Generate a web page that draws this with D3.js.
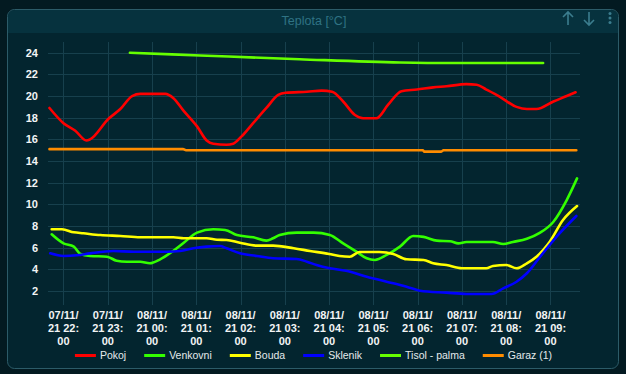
<!DOCTYPE html>
<html>
<head>
<meta charset="utf-8">
<title>Teplota</title>
<script src="https://d3js.org/d3.v7.min.js"></script>
<style>
	body { margin: 0; background: #031a21; }
	svg { display: block; font-family: "Liberation Sans", Arial, sans-serif; }
	.grid line { stroke: #17404d; stroke-width: 1; }
	.tick-y text, .tick-x text { fill: #f2f4f5; font-size: 11px; font-weight: bold; }
	.legend text { fill: #e4eaec; font-size: 10.5px; }
</style>
</head>
<body>
<script>

// series names and colours (legend order)
var seriesNames = ["Pokoj", "Venkovni", "Bouda", "Sklenik", "Tisol - palma", "Garaz (1)"];
var seriesColors = ["#ff0000", "#33ff00", "#ffff00", "#0000ff", "#66ff00", "#ff8c00"];

// readings: times (HH:MM, evening = 7/11, morning = 8/11) and values in °C
var pokojT = ["21:41","22:00","22:16","22:31","22:36","23:01","23:17","23:33","23:44","00:00","00:18","00:29","00:42","01:01","01:14","01:23","01:41","01:50","02:01","02:17","02:35","02:51","03:01","03:30","03:50","04:04","04:19","04:35","04:46","05:04","05:20","05:38","05:59","06:21","06:39","07:06","07:20","07:33","07:51","08:14","08:28","08:41","09:04","09:22","09:34"];
var pokojV = [18.9,17.5,16.8,15.9,16.0,17.9,18.8,20.0,20.2,20.2,20.2,19.8,18.7,17.2,15.9,15.6,15.5,15.6,16.25,17.5,18.9,20.1,20.3,20.4,20.5,20.4,19.5,18.25,17.95,17.95,19.2,20.45,20.6,20.8,20.9,21.1,21.05,20.6,19.95,19.0,18.8,18.8,19.5,20.0,20.35];

var venkovniT = ["21:44","22:00","22:14","22:23","22:36","22:59","23:12","23:26","23:44","23:57","00:11","00:29","00:43","01:01","01:23","01:39","01:55","02:17","02:35","02:44","02:53","03:16","03:39","04:01","04:19","04:37","04:51","05:02","05:18","05:36","05:54","06:08","06:26","06:44","06:55","07:06","07:42","07:56","08:09","08:28","08:46","09:04","09:22","09:36"];
var venkovniV = [7.24,6.4,6.1,5.42,5.24,5.17,4.8,4.71,4.7,4.56,4.93,5.72,6.46,7.39,7.7,7.64,7.17,6.96,6.65,6.87,7.17,7.39,7.39,7.17,6.4,5.63,5.02,4.87,5.33,6.1,7.08,7.0,6.65,6.6,6.4,6.53,6.53,6.34,6.53,6.83,7.39,8.4,10.4,12.4];

var boudaT = ["21:44","21:58","22:14","22:27","22:50","23:17","23:44","00:29","00:43","01:14","01:28","01:41","01:59","02:22","02:44","03:12","03:34","04:00","04:14","04:28","04:41","05:08","05:27","05:45","06:08","06:21","06:39","07:00","07:33","07:42","08:00","08:14","08:28","08:41","08:59","09:17","09:36"];
var boudaV = [7.7,7.7,7.42,7.33,7.17,7.08,6.96,6.96,6.87,6.87,6.74,6.71,6.46,6.19,6.19,5.95,5.7,5.42,5.24,5.17,5.6,5.6,5.42,4.93,4.87,4.56,4.4,4.1,4.1,4.31,4.4,4.1,4.56,5.17,6.56,8.56,9.85];

var sklenikT = ["21:42","22:00","22:18","22:36","23:08","23:35","00:20","00:38","00:56","01:14","01:32","01:41","01:59","02:22","02:44","03:16","03:30","03:43","04:01","04:23","04:51","05:18","05:45","06:03","06:39","07:06","07:40","07:56","08:14","08:28","08:46","09:08","09:35"];
var sklenikV = [5.48,5.24,5.3,5.48,5.7,5.63,5.63,5.7,5.95,6.1,6.16,5.95,5.48,5.24,5.02,4.96,4.71,4.4,4.1,3.88,3.32,2.86,2.4,2.03,1.85,1.73,1.73,2.25,2.86,3.64,5.17,7.0,8.93];

var tisolT = ["23:30","01:05","03:20","05:36","06:44","08:50"];
var tisolV = [24.0,23.75,23.4,23.1,23.05,23.05];

var garazT = ["21:41","00:42","00:46","06:07","06:09","06:32","06:35","09:35"];
var garazV = [15.1,15.1,15.0,15.0,14.87,14.87,15.0,15.0];

var yTicks = [2,4,6,8,10,12,14,16,18,20,22,24];
var title = "Teplota [°C]";

var width = 626, height = 374;

function toDate(s) {
	var p = s.split(":"), h = +p[0], m = +p[1];
	return new Date(2021, 10, h >= 12 ? 7 : 8, h, m);
}
function zip(ts, vs) {
	return ts.map(function(t, i) { return { date: toDate(t), value: vs[i] }; });
}
var series = [
	zip(pokojT, pokojV), zip(venkovniT, venkovniV), zip(boudaT, boudaV),
	zip(sklenikT, sklenikV), zip(tisolT, tisolV), zip(garazT, garazV)
];

var svg = d3.select("body").append("svg")
	.attr("width", width)
	.attr("height", height);

// card
svg.append("rect")
	.attr("x", 7.5).attr("y", 9.5)
	.attr("width", 611).attr("height", 359)
	.attr("rx", 7)
	.attr("fill", "#03252f")
	.attr("stroke", "#2c5b68");
svg.append("path")
	.attr("d", "M8,33 V16.5 A7,7 0 0 1 15,10 H611 A7,7 0 0 1 618,16.5 V33 Z")
	.attr("fill", "#06323e");

svg.append("text")
	.attr("x", 314).attr("y", 25)
	.attr("text-anchor", "middle")
	.attr("fill", "#2f7384")
	.style("font-size", "12.5px")
	.text(title);

// header icons: up, down, menu
var icons = svg.append("g").attr("stroke", "#3b7d8e").attr("stroke-width", 1.6).attr("fill", "none");
icons.append("path").attr("d", "M568,25 V12 M563,17 L568,12 L573,17");
icons.append("path").attr("d", "M589,12 V25 M584,20 L589,25 L594,20");
[13.5, 18, 22.5].forEach(function(cy) {
	svg.append("circle").attr("cx", 610).attr("cy", cy).attr("r", 1.5).attr("fill", "#3b7d8e");
});

// scales
var x = d3.scaleTime()
	.domain([new Date(2021, 10, 7, 21, 39), new Date(2021, 10, 8, 9, 40)])
	.range([48, 580]);
var y = d3.scaleLinear()
	.domain([0, 25])
	.range([312.7, 41.9]);

var hourTicks = x.ticks(d3.timeHour.every(1));
var fmt = d3.timeFormat("%d/%m/|%y %H:|%M");

// grid
var grid = svg.append("g").attr("class", "grid");
grid.selectAll(".hl").data(yTicks).enter().append("line")
	.attr("x1", 48).attr("x2", 580)
	.attr("y1", function(d) { return Math.round(y(d)) + 0.5; })
	.attr("y2", function(d) { return Math.round(y(d)) + 0.5; });
grid.selectAll(".vl").data(hourTicks).enter().append("line")
	.attr("x1", function(d) { return Math.round(x(d)) + 0.5; })
	.attr("x2", function(d) { return Math.round(x(d)) + 0.5; })
	.attr("y1", 42).attr("y2", 305);

// y labels
svg.append("g").attr("class", "tick-y")
	.selectAll("text").data(yTicks).enter().append("text")
	.attr("x", 38)
	.attr("y", function(d) { return y(d) + 4; })
	.attr("text-anchor", "end")
	.text(function(d) { return d; });

// x labels, wrapped on three lines
var xl = svg.append("g").attr("class", "tick-x")
	.selectAll("text").data(hourTicks).enter().append("text")
	.attr("text-anchor", "middle");
xl.each(function(d) {
	var parts = fmt(d).split("|");
	var t = d3.select(this);
	parts.forEach(function(p, i) {
		t.append("tspan")
			.attr("x", x(d))
			.attr("y", 319 + i * 12.8)
			.text(p);
	});
});

// lines
var line = d3.line()
	.x(function(d) { return x(d.date); })
	.y(function(d) { return y(d.value); })
	.curve(d3.curveMonotoneX);

svg.append("g").selectAll("path").data(series).enter().append("path")
	.attr("d", line)
	.attr("fill", "none")
	.attr("stroke", function(d, i) { return seriesColors[i]; })
	.attr("stroke-width", 2.6)
	.attr("stroke-linejoin", "round")
	.attr("stroke-linecap", "round");

// legend, centred under the chart
var legend = svg.append("g").attr("class", "legend");
var items = legend.selectAll("g").data(seriesNames).enter().append("g");
items.append("line")
	.attr("x1", 0).attr("x2", 21)
	.attr("y1", 0).attr("y2", 0)
	.attr("stroke", function(d, i) { return seriesColors[i]; })
	.attr("stroke-width", 3);
items.append("text")
	.attr("x", 25).attr("y", 3.8)
	.text(function(d) { return d; });

var pos = 0, offsets = [];
items.each(function() {
	offsets.push(pos);
	pos += 25 + d3.select(this).select("text").node().getComputedTextLength() + 18;
});
var total = pos - 18;
var startX = 313.5 - total / 2;
items.attr("transform", function(d, i) { return "translate(" + (startX + offsets[i]) + ",355.5)"; });

</script>
</body>
</html>
